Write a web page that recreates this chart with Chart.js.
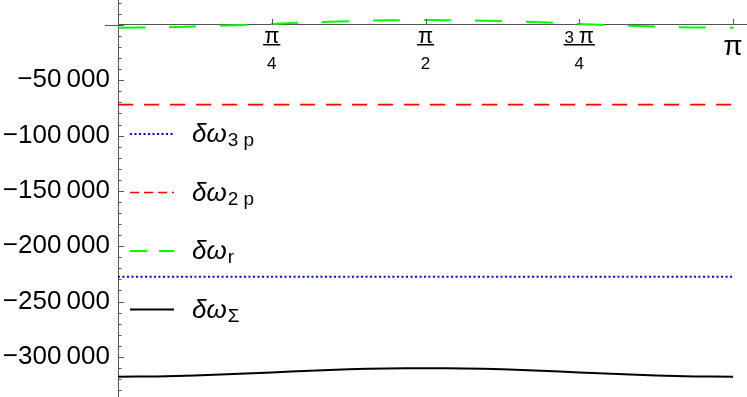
<!DOCTYPE html>
<html>
<head>
<meta charset="utf-8">
<script src="https://cdn.jsdelivr.net/npm/chart.js@4.4.1/dist/chart.umd.min.js"></script>
<style>
  html, body { margin: 0; padding: 0; background: #fff; }
  #wrap { width: 747px; height: 397px; }
</style>
</head>
<body>
<div id="wrap"><canvas id="chart" width="747" height="397"></canvas></div>
<script>
// sample angles (0 .. pi in steps of pi/16)
const angles = [0, 0.1963, 0.3927, 0.5890, 0.7854, 0.9817, 1.1781, 1.3744, 1.5708,
                1.7671, 1.9635, 2.1598, 2.3562, 2.5525, 2.7489, 2.9452, 3.1416];

const dOmega3p = [-227500, -227500, -227500, -227500, -227500, -227500, -227500, -227500, -227500,
                  -227500, -227500, -227500, -227500, -227500, -227500, -227500, -227500];
const dOmega2p = [-72000, -72000, -72000, -72000, -72000, -72000, -72000, -72000, -72000,
                  -72000, -72000, -72000, -72000, -72000, -72000, -72000, -72000];
const dOmegaR = [-2400, -2200, -1400, -300, 1000, 2400, 3500, 4200, 4500,
                 4200, 3500, 2400, 1000, -300, -1400, -2200, -2400];
const dOmegaSum = [-318000, -317700, -316900, -315600, -314100, -312600, -311300, -310500, -310200,
                   -310500, -311300, -312600, -314100, -315600, -316900, -317700, -318000];

const seriesSubs = ['3 p', '2 p', 'r', 'Σ'];

const xTickValues = [0.7854, 1.5708, 2.3562, 3.1416];
const xTickNums = ['π', 'π', '3 π', 'π'];
const xTickDens = ['4', '2', '4', ''];

const yTickValues = [-300000, -250000, -200000, -150000, -100000, -50000];
const yTickLabels = ['−300\u2009000', '−250\u2009000', '−200\u2009000', '−150\u2009000', '−100\u2009000', '−50\u2009000'];

const axisColor = '#555';
const font = '"Liberation Sans", Arial, sans-serif';

const toPoints = (ys) => ys.map((y, i) => ({ x: angles[i], y: y }));

// draws tick marks, fraction labels and the legend
const decorations = {
    id: 'decorations',
    afterDraw(chart) {
        const ctx = chart.ctx;
        const xs = chart.scales.x;
        const ys = chart.scales.y;
        const x0 = xs.getPixelForValue(0);
        const y0 = ys.getPixelForValue(0);
        ctx.save();
        ctx.strokeStyle = axisColor;
        ctx.lineWidth = 1;

        // short piece of the x axis left of the y axis
        ctx.beginPath();
        ctx.moveTo(x0 - 13, Math.round(y0) + 0.5);
        ctx.lineTo(x0, Math.round(y0) + 0.5);
        ctx.stroke();

        // y ticks, pointing into the plot
        for (let v = -330000; v <= 20000; v += 10000) {
            const py = Math.round(ys.getPixelForValue(v)) + 0.5;
            const len = v % 50000 === 0 ? 6 : 3.5;
            ctx.beginPath();
            ctx.moveTo(x0, py);
            ctx.lineTo(x0 + len, py);
            ctx.stroke();
        }
        // x ticks, pointing up
        xTickValues.forEach(v => {
            const px = Math.round(xs.getPixelForValue(v)) + 0.5;
            ctx.beginPath();
            ctx.moveTo(px, y0);
            ctx.lineTo(px, y0 - 6);
            ctx.stroke();
        });

        // x labels as fractions
        const drawMixed = (text, cx, baseY, numSize, piSize) => {
            const parts = text.split('');
            const fontFor = ch => (ch === 'π' ? piSize : numSize) + 'px ' + font;
            let w = 0;
            parts.forEach(ch => { ctx.font = fontFor(ch); w += ctx.measureText(ch).width; });
            let x = cx - w / 2;
            parts.forEach(ch => {
                ctx.font = fontFor(ch);
                ctx.fillText(ch, x, baseY);
                x += ctx.measureText(ch).width;
            });
            return w;
        };
        ctx.fillStyle = '#000';
        ctx.textAlign = 'left';
        ctx.textBaseline = 'alphabetic';
        xTickValues.forEach((v, i) => {
            const px = xs.getPixelForValue(v);
            if (xTickDens[i]) {
                const w = drawMixed(xTickNums[i], px, y0 + 18, 17, 22);
                ctx.fillRect(px - w / 2 - 1, y0 + 19, w + 2, 1.5);
                drawMixed(xTickDens[i], px, y0 + 44, 17, 22);
            } else {
                drawMixed(xTickNums[i], px, y0 + 30, 17, 28);
            }
        });

        // legend
        const rows = [134, 192.5, 251, 309.5];
        chart.data.datasets.forEach((ds, i) => {
            const ry = rows[i];
            ctx.strokeStyle = ds.borderColor;
            ctx.lineWidth = ds.borderWidth;
            ctx.setLineDash(ds.legendDash);
            ctx.beginPath();
            ctx.moveTo(130, ry);
            ctx.lineTo(174, ry);
            ctx.stroke();
            ctx.setLineDash([]);
            ctx.fillStyle = '#000';
            ctx.font = 'italic 26px ' + font;
            ctx.fillText('δω', 192, ry + 8);
            const w = ctx.measureText('δω').width;
            ctx.font = '19px ' + font;
            ctx.fillText(seriesSubs[i], 192 + w + 1, ry + 12);
        });
        ctx.restore();
    }
};

const chart = new Chart(document.getElementById('chart'), {
    type: 'line',
    data: {
        datasets: [
            { data: toPoints(dOmega3p), borderColor: '#0000ff', borderWidth: 2, borderDash: [2, 2.5], legendDash: [2, 2.5] },
            { data: toPoints(dOmega2p), borderColor: '#ff0000', borderWidth: 1.6, borderDash: [15, 11], legendDash: [9, 5] },
            { data: toPoints(dOmegaR), borderColor: '#00ff00', borderWidth: 2, borderDash: [27, 24], legendDash: [17, 12] },
            { data: toPoints(dOmegaSum), borderColor: '#000000', borderWidth: 2, borderDash: [], legendDash: [] }
        ]
    },
    options: {
        responsive: false,
        animation: false,
        devicePixelRatio: 1,
        layout: { padding: 0 },
        elements: {
            point: { radius: 0 },
            line: { tension: 0.3, borderCapStyle: 'butt', fill: false }
        },
        plugins: { legend: { display: false }, tooltip: { enabled: false } },
        scales: {
            x: {
                type: 'linear',
                min: 0,
                max: 3.213,
                position: { y: 0 },
                afterFit: (s) => { s.height = 0; s.paddingLeft = 0; s.paddingRight = 0; },
                ticks: { display: false },
                grid: { drawOnChartArea: false, drawTicks: false },
                border: { color: axisColor, width: 1 }
            },
            y: {
                type: 'linear',
                position: 'left',
                min: -336300,
                max: 22600,
                afterFit: (s) => { s.width = 118; s.paddingTop = 0; s.paddingBottom = 0; },
                afterBuildTicks: (s) => { s.ticks = yTickValues.map(v => ({ value: v })); },
                ticks: {
                    callback: (v, i) => yTickLabels[i],
                    font: { family: font, size: 26 },
                    color: '#000',
                    padding: 8
                },
                grid: { drawOnChartArea: false, drawTicks: false },
                border: { color: axisColor, width: 1 }
            }
        }
    },
    plugins: [decorations]
});
</script>
</body>
</html>
